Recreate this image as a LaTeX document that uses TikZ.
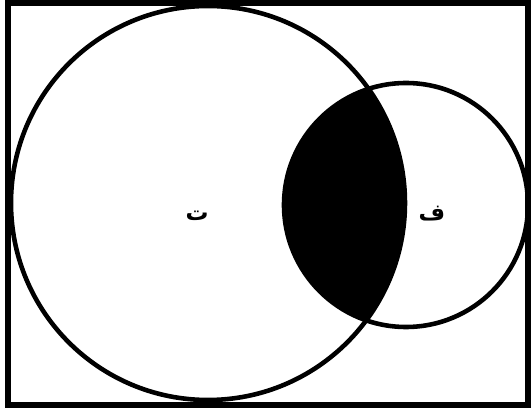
\documentclass[tikz,border=0pt]{standalone}
\usepackage{fontspec}
\usepackage{tikz}
\usetikzlibrary{positioning}
\TeXXeTstate=1
\newfontfamily\arabicfont[Script=Arabic]{DejaVu Sans}

\tikzset{
  ring/.style={line width=2.6pt,black},
  letter/.style={font=\arabicfont\bfseries\fontsize{13}{15}\selectfont,inner sep=0pt}
}

\begin{document}
\begin{tikzpicture}[x=0.02cm,y=-0.02cm]
\useasboundingbox (0,0) rectangle (532,412);
\draw[line width=3pt] (8,3) rectangle (528,405);
% black lens where the two circles overlap
\begin{scope}
\clip (208,203) circle (197);
\fill[black] (406,205) circle (122);
\end{scope}
\draw[ring] (208,203) circle (197);
\draw[ring] (406,205) circle (122);
\node[letter] (ta) at (197,216) {\beginR ت\endR};
\node[letter] (fa) at (432,214) {\beginR ف\endR};
\end{tikzpicture}
\end{document}
